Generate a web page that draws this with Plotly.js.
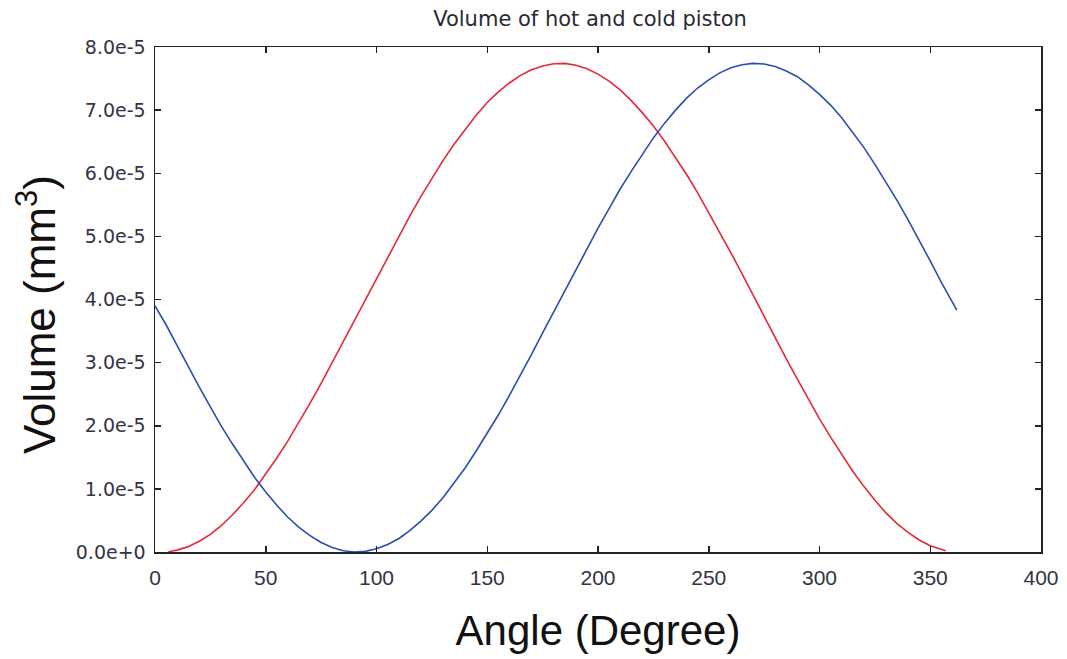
<!DOCTYPE html>
<html>
<head>
<meta charset="utf-8">
<script src="https://cdn.plot.ly/plotly-3.0.1.min.js"></script>
<style>
html,body{margin:0;padding:0;background:#fff;}
#chart{width:1067px;height:659px;}
</style>
</head>
<body>
<div id="chart"></div>
<script>
// Hot piston volume (red), in units of 1e-5 mm^3
const hotAngle = [6,10,15,20,25,30,35,40,45,50,55,60,65,70,75,80,85,90,95,100,105,110,115,120,125,130,135,140,145,150,155,160,165,170,175,180,185,190,195,200,205,210,215,220,225,230,235,240,245,250,255,260,265,270,275,280,285,290,295,300,305,310,315,320,325,330,335,340,345,350,355,357];
const hotVol = [0.005,0.03,0.085,0.17,0.28,0.42,0.59,0.78,0.99,1.23,1.49,1.76,2.05,2.36,2.67,3.0,3.33,3.67,4.0,4.34,4.67,5.0,5.32,5.63,5.92,6.2,6.46,6.7,6.92,7.12,7.29,7.43,7.55,7.64,7.7,7.735,7.74,7.71,7.655,7.57,7.46,7.32,7.15,6.96,6.75,6.51,6.25,5.98,5.69,5.38,5.07,4.74,4.41,4.07,3.73,3.4,3.06,2.74,2.42,2.11,1.82,1.54,1.28,1.04,0.82,0.62,0.45,0.31,0.19,0.1,0.04,0.02];
// Cold piston volume (blue), in units of 1e-5 mm^3
const coldAngle = [0,5,10,15,20,25,30,35,40,45,50,55,60,65,70,75,80,85,90,95,100,105,110,115,120,125,130,135,140,145,150,155,160,165,170,175,180,185,190,195,200,205,210,215,220,225,230,235,240,245,250,255,260,265,270,275,280,285,290,295,300,305,310,315,320,325,330,335,340,345,350,355,360,362];
const coldVol = [3.9,3.6,3.27,2.93,2.61,2.3,1.99,1.71,1.44,1.18,0.95,0.74,0.55,0.39,0.26,0.15,0.07,0.02,0.0,0.01,0.05,0.12,0.21,0.34,0.49,0.66,0.86,1.09,1.33,1.6,1.88,2.17,2.48,2.8,3.13,3.47,3.8,4.14,4.48,4.81,5.13,5.44,5.75,6.03,6.3,6.56,6.79,7.0,7.19,7.35,7.48,7.59,7.67,7.72,7.74,7.73,7.69,7.62,7.53,7.4,7.25,7.08,6.88,6.65,6.41,6.14,5.86,5.57,5.26,4.94,4.61,4.27,3.94,3.83];
const yTickVals = [0,1,2,3,4,5,6,7,8];
const yTickText = ["0.0e+0","1.0e-5","2.0e-5","3.0e-5","4.0e-5","5.0e-5","6.0e-5","7.0e-5","8.0e-5"];
const xTickVals = [0,50,100,150,200,250,300,350,400];

const scale = 1e-5;
const traces = [
  {x: hotAngle, y: hotVol.map(v => v*scale), type:'scatter', mode:'lines', name:'Hot', line:{color:'#e5283a', width:1.6}},
  {x: coldAngle, y: coldVol.map(v => v*scale), type:'scatter', mode:'lines', name:'Cold', line:{color:'#2a4ead', width:1.6}}
];

const layout = {
  width:1067, height:659,
  paper_bgcolor:'#ffffff', plot_bgcolor:'#ffffff',
  margin:{l:155, r:26, t:47, b:107},
  showlegend:false,
  title:{text:'Volume of hot and cold piston', font:{family:'DejaVu Sans', size:21, color:'#2a2a35'}, x:0.553, xanchor:'center', y:0.972, yanchor:'middle'},
  xaxis:{
    range:[0,400], tickvals:xTickVals, ticks:'inside', ticklen:6, tickwidth:1.5, tickcolor:'#222',
    showline:true, linecolor:'#222', linewidth:1.5, mirror:'ticks', showgrid:false, zeroline:false,
    tickfont:{family:'Liberation Sans, Arial', size:21, color:'#333344'}, ticklabelstandoff:6,
    title:{text:'Angle (Degree)', font:{family:'Liberation Sans, Arial', size:42, color:'#111'}, standoff:28}
  },
  yaxis:{
    range:[0,8*scale], tickvals:yTickVals.map(v=>v*scale), ticktext:yTickText, ticks:'inside', ticklen:6, tickwidth:1.5, tickcolor:'#222',
    showline:true, linecolor:'#222', linewidth:1.5, mirror:'ticks', showgrid:false, zeroline:false,
    tickfont:{family:'DejaVu Sans', size:19, color:'#333344'}, ticklabelstandoff:4
  },
  annotations:[
    {text:'Volume (mm<sup>3</sup>)', xref:'paper', yref:'paper', x:-0.134, y:0.47, xanchor:'center', yanchor:'middle',
     textangle:-90, showarrow:false, font:{family:'Liberation Sans, Arial', size:44, color:'#111'}}
  ]
};

Plotly.newPlot('chart', traces, layout, {displayModeBar:false, staticPlot:true});
</script>
</body>
</html>
